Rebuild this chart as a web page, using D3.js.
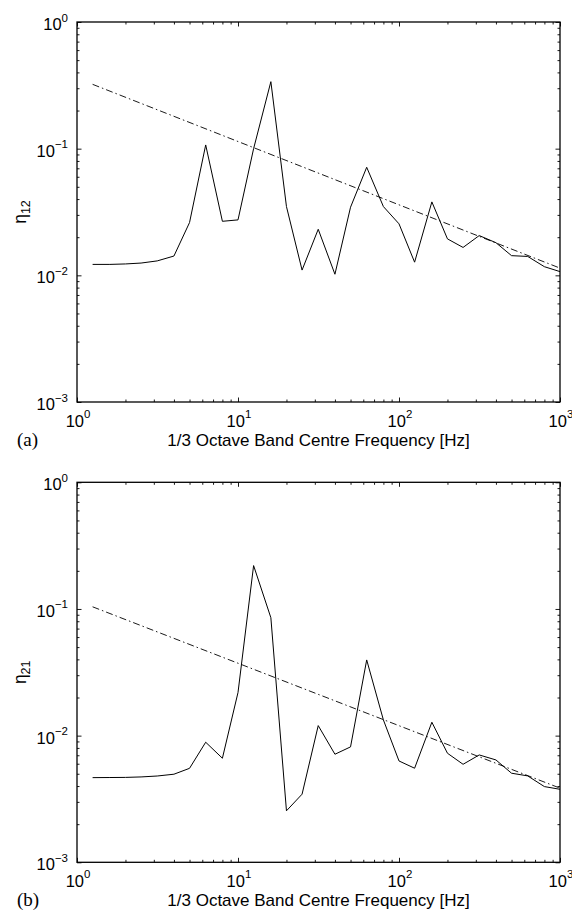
<!DOCTYPE html>
<html>
<head>
<meta charset="utf-8">
<script src="https://cdn.jsdelivr.net/npm/d3@7/dist/d3.min.js"></script>
<style>
  html, body { margin: 0; padding: 0; background: #fff; }
  svg { display: block; }
  text { fill: #000; }
</style>
</head>
<body>
<svg id="chart" width="572" height="911"></svg>
<script>
// 1/3 octave band centre frequencies [Hz]
const bandFreqs = [1.25, 1.6, 2, 2.5, 3.15, 4, 5, 6.3, 8, 10, 12.5, 16, 20, 25, 31.5,
                   40, 50, 63, 80, 100, 125, 160, 200, 250, 315, 400, 500, 630, 800, 1000];

// Coupling loss factor, subsystem 1 -> 2
const eta12 = [0.0122, 0.0122, 0.0123, 0.0125, 0.0130, 0.0142, 0.0261, 0.107, 0.0267, 0.0274,
               0.100, 0.338, 0.0349, 0.0110, 0.0231, 0.0102, 0.0345, 0.0713, 0.0349, 0.0255,
               0.0127, 0.0380, 0.0194, 0.0166, 0.0206, 0.0181, 0.0143, 0.0141, 0.0117, 0.0107];

// Coupling loss factor, subsystem 2 -> 1
const eta21 = [0.00466, 0.00467, 0.00468, 0.00472, 0.00480, 0.00496, 0.00552, 0.00887, 0.00663, 0.0219,
               0.220, 0.0853, 0.00255, 0.00345, 0.0120, 0.00713, 0.00815, 0.0396, 0.0133, 0.00631,
               0.00553, 0.01276, 0.00726, 0.00594, 0.00704, 0.00643, 0.00505, 0.00481, 0.00396, 0.00377];

// Reference (analytical estimate) lines: end points [frequency, value]
const ref12 = [[1.25, 0.322], [1000, 0.0114]];
const ref21 = [[1.25, 0.104], [1000, 0.00385]];

// Axis tick labels (decade exponents)
const xExponents = [0, 1, 2, 3];
const yExponents = [0, -1, -2, -3];

const panels = [
  { tag: "(a)", sub: "12", values: eta12, ref: ref12, top: 22 },
  { tag: "(b)", sub: "21", values: eta21, ref: ref21, top: 482.3 }
];

const svg = d3.select("#chart");
const left = 77, right = 560, plotH = 380;
const font = "'Liberation Sans', Arial, Helvetica, sans-serif";

const x = d3.scaleLog().domain([1, 1000]).range([0, right - left]);
const y = d3.scaleLog().domain([1e-3, 1]).range([plotH, 0]);

const xMajor = xExponents.map(e => Math.pow(10, e));
const yMajor = yExponents.map(e => Math.pow(10, e));
const minorOf = (lo, hi) => {
  const out = [];
  for (let k = lo; k < hi; k++) for (let m = 2; m <= 9; m++) out.push(m * Math.pow(10, k));
  return out;
};
const xMinor = minorOf(0, 3);
const yMinor = minorOf(-3, 0);

const fmtExp = e => (e < 0 ? "\u2212" + Math.abs(e) : String(e));

function drawTicks(g, axisFn, scale, ticks, len, transform) {
  const a = g.append("g")
    .attr("transform", transform)
    .call(axisFn(scale).tickValues(ticks).tickSize(len).tickFormat(""));
  a.select(".domain").remove();
  a.selectAll(".tick line").attr("stroke", "#000").attr("stroke-width", 0.9);
}

panels.forEach(p => {
  const g = svg.append("g").attr("transform", `translate(${left},${p.top})`);
  const W = right - left;

  // inward ticks on all four sides
  [[xMajor, 4.5], [xMinor, 2.5]].forEach(([t, l]) => {
    drawTicks(g, d3.axisBottom, x, t, -l, `translate(0,${plotH})`);
    drawTicks(g, d3.axisTop, x, t, -l, "translate(0,0)");
  });
  [[yMajor, 4.5], [yMinor, 2.5]].forEach(([t, l]) => {
    drawTicks(g, d3.axisLeft, y, t, -l, "translate(0,0)");
    drawTicks(g, d3.axisRight, y, t, -l, `translate(${W},0)`);
  });

  // reference line (dash-dot)
  const line = d3.line().x(d => x(d[0])).y(d => y(d[1]));
  g.append("path")
    .datum(p.ref)
    .attr("d", line)
    .attr("fill", "none")
    .attr("stroke", "#000")
    .attr("stroke-width", 0.9)
    .attr("stroke-dasharray", "7,3,1.5,3");

  // measured coupling loss factor
  g.append("path")
    .datum(bandFreqs.map((f, i) => [f, p.values[i]]))
    .attr("d", line)
    .attr("fill", "none")
    .attr("stroke", "#000")
    .attr("stroke-width", 1)
    .attr("stroke-linejoin", "miter");

  // axes box
  g.append("rect")
    .attr("x", 0).attr("y", 0)
    .attr("width", W).attr("height", plotH)
    .attr("fill", "none")
    .attr("stroke", "#000")
    .attr("stroke-width", 1.3);

  // y tick labels
  yExponents.forEach(e => {
    const t = g.append("text")
      .attr("x", -9)
      .attr("y", y(Math.pow(10, e)) + 8)
      .attr("text-anchor", "end")
      .attr("font-family", font)
      .attr("font-size", 16.5);
    t.append("tspan").text("10");
    t.append("tspan").attr("dy", -8.5).attr("font-size", 11.5).text(fmtExp(e));
  });

  // x tick labels
  xExponents.forEach(e => {
    const t = g.append("text")
      .attr("x", x(Math.pow(10, e)) + 1)
      .attr("y", plotH + 24.5)
      .attr("text-anchor", "middle")
      .attr("font-family", font)
      .attr("font-size", 16.5);
    t.append("tspan").text("10");
    t.append("tspan").attr("dy", -8.5).attr("font-size", 11.5).text(fmtExp(e));
  });

  // x axis title
  g.append("text")
    .attr("x", W / 2)
    .attr("y", plotH + 43.5)
    .attr("text-anchor", "middle")
    .attr("font-family", font)
    .attr("font-size", 17)
    .text("1/3 Octave Band Centre Frequency [Hz]");

  // y axis title
  const yt = g.append("text")
    .attr("transform", `translate(${-51},${plotH / 2}) rotate(-90)`)
    .attr("text-anchor", "middle")
    .attr("font-family", font)
    .attr("font-size", 17.5);
  yt.append("tspan").text("\u03b7");
  yt.append("tspan").attr("dy", 4).attr("font-size", 12.5).text(p.sub);

  // panel tag
  g.append("text")
    .attr("x", 17 - left)
    .attr("y", plotH + 43.5)
    .attr("font-family", "'Liberation Serif', 'Times New Roman', serif")
    .attr("font-size", 19)
    .text(p.tag);
});
</script>
</body>
</html>
